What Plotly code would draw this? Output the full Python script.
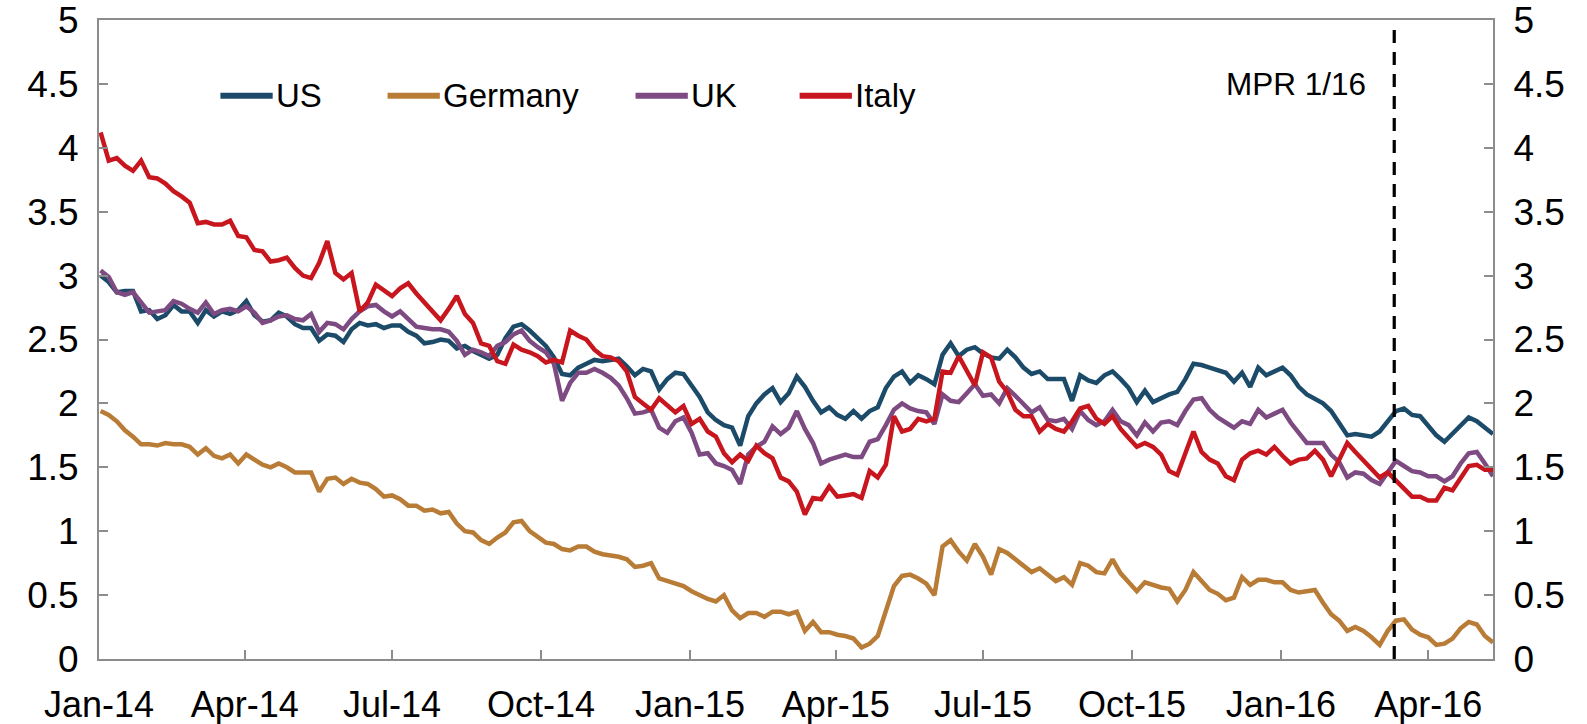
import pandas as pd
import plotly.graph_objects as go

# 10-year government bond yields, read every 5 days from the chart
START = "2014-01-02"
STEP = "5D"

us = [
    3.00, 2.95, 2.87, 2.88, 2.88, 2.72, 2.73, 2.66, 2.69, 2.77,
    2.72, 2.72, 2.63, 2.73, 2.68, 2.72, 2.70, 2.73, 2.80, 2.69,
    2.64, 2.65, 2.71, 2.68, 2.62, 2.59, 2.59, 2.49, 2.54, 2.53,
    2.48, 2.58, 2.63, 2.61, 2.62, 2.59, 2.61, 2.61, 2.56, 2.53,
    2.47, 2.48, 2.50, 2.49, 2.43, 2.45, 2.41, 2.38, 2.35, 2.38,
    2.51, 2.60, 2.62, 2.57, 2.51, 2.45, 2.36, 2.23, 2.22, 2.28,
    2.31, 2.34, 2.33, 2.34, 2.35, 2.29, 2.22, 2.27, 2.25, 2.11,
    2.19, 2.24, 2.23, 2.14, 2.05, 1.93, 1.87, 1.83, 1.81, 1.67,
    1.90, 2.00, 2.07, 2.12, 2.01, 2.08, 2.21, 2.13, 2.02, 1.93,
    1.97, 1.91, 1.88, 1.94, 1.88, 1.94, 1.97, 2.12, 2.21, 2.25,
    2.16, 2.22, 2.19, 2.15, 2.38, 2.47, 2.37, 2.42, 2.44, 2.39,
    2.36, 2.35, 2.42, 2.36, 2.28, 2.23, 2.25, 2.19, 2.19, 2.19,
    2.02, 2.22, 2.18, 2.16, 2.22, 2.25, 2.19, 2.12, 2.01, 2.10,
    2.01, 2.04, 2.07, 2.09, 2.19, 2.31, 2.30, 2.28, 2.26, 2.24,
    2.17, 2.24, 2.13, 2.28, 2.22, 2.25, 2.28, 2.22, 2.13, 2.07,
    2.03, 2.00, 1.94, 1.85, 1.75, 1.76, 1.75, 1.74, 1.78, 1.86,
    1.94, 1.96, 1.91, 1.90, 1.83, 1.75, 1.70, 1.76, 1.82, 1.89,
    1.86, 1.81, 1.76,
]

germany = [
    1.94, 1.91, 1.86, 1.79, 1.74, 1.68, 1.68, 1.67, 1.69, 1.68,
    1.68, 1.66, 1.60, 1.65, 1.59, 1.57, 1.60, 1.53, 1.60, 1.56,
    1.52, 1.50, 1.53, 1.50, 1.46, 1.46, 1.46, 1.31, 1.41, 1.42,
    1.37, 1.41, 1.38, 1.37, 1.33, 1.27, 1.28, 1.25, 1.20, 1.20,
    1.16, 1.17, 1.14, 1.15, 1.06, 1.00, 0.99, 0.93, 0.90, 0.95,
    0.99, 1.07, 1.08, 1.00, 0.96, 0.91, 0.90, 0.86, 0.85, 0.88,
    0.88, 0.84, 0.82, 0.81, 0.80, 0.78, 0.72, 0.73, 0.75, 0.63,
    0.61, 0.59, 0.57, 0.53, 0.50, 0.47, 0.45, 0.50, 0.38, 0.32,
    0.36, 0.36, 0.33, 0.37, 0.37, 0.35, 0.37, 0.22, 0.29, 0.21,
    0.21, 0.19, 0.18, 0.16, 0.09, 0.12, 0.18, 0.38, 0.57, 0.65,
    0.66, 0.63, 0.59, 0.50, 0.88, 0.93, 0.84, 0.77, 0.90, 0.80,
    0.66, 0.86, 0.83, 0.78, 0.73, 0.68, 0.71, 0.66, 0.61, 0.64,
    0.58, 0.75, 0.73, 0.68, 0.67, 0.78, 0.67, 0.60, 0.53, 0.60,
    0.58, 0.56, 0.55, 0.45, 0.54, 0.68, 0.61, 0.54, 0.51, 0.46,
    0.48, 0.64, 0.58, 0.62, 0.62, 0.60, 0.60, 0.54, 0.52, 0.53,
    0.54, 0.44, 0.35, 0.30, 0.22, 0.25, 0.22, 0.17, 0.11, 0.22,
    0.30, 0.31, 0.23, 0.19, 0.17, 0.11, 0.12, 0.16, 0.24, 0.29,
    0.27, 0.18, 0.13,
]

uk = [
    3.04, 2.99, 2.87, 2.85, 2.87, 2.79, 2.71, 2.72, 2.73, 2.80,
    2.78, 2.74, 2.71, 2.79, 2.70, 2.73, 2.74, 2.72, 2.76, 2.71,
    2.63, 2.65, 2.68, 2.69, 2.66, 2.65, 2.70, 2.56, 2.63, 2.62,
    2.58, 2.66, 2.72, 2.76, 2.77, 2.72, 2.68, 2.72, 2.66, 2.60,
    2.59, 2.58, 2.58, 2.56, 2.49, 2.38, 2.42, 2.40, 2.37, 2.45,
    2.48, 2.54, 2.57, 2.49, 2.44, 2.40, 2.31, 2.02, 2.16, 2.24,
    2.24, 2.27, 2.24, 2.20, 2.14, 2.04, 1.92, 1.93, 1.95, 1.81,
    1.77, 1.86, 1.89, 1.77, 1.60, 1.61, 1.53, 1.51, 1.48, 1.37,
    1.60, 1.66, 1.70, 1.82, 1.76, 1.81, 1.94, 1.80, 1.69, 1.53,
    1.56, 1.58, 1.60, 1.58, 1.58, 1.70, 1.72, 1.83, 1.95, 2.00,
    1.96, 1.94, 1.93, 1.84, 2.07, 2.02, 2.01, 2.08, 2.15, 2.06,
    2.07, 2.00, 2.12, 2.06, 1.99, 1.93, 1.97, 1.87, 1.86, 1.88,
    1.80, 1.94, 1.87, 1.83, 1.86, 1.95, 1.86, 1.83, 1.75, 1.85,
    1.78, 1.85, 1.86, 1.83, 1.94, 2.03, 2.04, 1.95, 1.89, 1.85,
    1.81, 1.86, 1.84, 1.95, 1.89, 1.92, 1.95, 1.85, 1.77, 1.69,
    1.69, 1.69, 1.60, 1.54, 1.42, 1.46, 1.45, 1.40, 1.37, 1.46,
    1.55, 1.51, 1.47, 1.46, 1.43, 1.43, 1.39, 1.43, 1.53, 1.61,
    1.62, 1.53, 1.43,
]

italy = [
    4.12, 3.90, 3.92, 3.86, 3.82, 3.90, 3.77, 3.76, 3.72, 3.66,
    3.62, 3.57, 3.41, 3.42, 3.40, 3.40, 3.43, 3.31, 3.30, 3.20,
    3.19, 3.11, 3.12, 3.14, 3.06, 3.00, 2.98, 3.10, 3.27, 3.02,
    2.97, 3.02, 2.72, 2.79, 2.93, 2.89, 2.84, 2.90, 2.94, 2.86,
    2.79, 2.73, 2.65, 2.74, 2.84, 2.70, 2.63, 2.47, 2.45, 2.33,
    2.31, 2.46, 2.42, 2.40, 2.37, 2.32, 2.34, 2.32, 2.57, 2.53,
    2.50, 2.42, 2.37, 2.36, 2.33, 2.25, 2.05, 2.00, 1.95, 2.04,
    1.98, 1.93, 1.98, 1.84, 1.88, 1.78, 1.74, 1.61, 1.54, 1.60,
    1.55, 1.67, 1.61, 1.57, 1.42, 1.39, 1.31, 1.13, 1.26, 1.25,
    1.35, 1.27, 1.28, 1.29, 1.26, 1.47, 1.42, 1.52, 1.90, 1.78,
    1.80, 1.88, 1.86, 1.88, 2.25, 2.24, 2.37, 2.26, 2.14, 2.40,
    2.36, 2.17, 2.09, 1.95, 1.90, 1.90, 1.78, 1.84, 1.80, 1.78,
    1.86, 1.96, 1.98, 1.88, 1.84, 1.90, 1.80, 1.73, 1.66, 1.69,
    1.66, 1.60, 1.47, 1.44, 1.62, 1.78, 1.62, 1.56, 1.53, 1.43,
    1.40, 1.56, 1.61, 1.63, 1.60, 1.66, 1.59, 1.53, 1.56, 1.57,
    1.63, 1.56, 1.43, 1.57, 1.69, 1.62, 1.55, 1.49, 1.42, 1.46,
    1.40, 1.33, 1.27, 1.27, 1.24, 1.24, 1.34, 1.32, 1.42, 1.51,
    1.52, 1.48, 1.48,
]

tick_dates = ["2014-01-01", "2014-04-01", "2014-07-01", "2014-10-01", "2015-01-01",
              "2015-04-01", "2015-07-01", "2015-10-01", "2016-01-01", "2016-04-01"]
tick_text = ["Jan-14", "Apr-14", "Jul-14", "Oct-14", "Jan-15",
             "Apr-15", "Jul-15", "Oct-15", "Jan-16", "Apr-16"]
y_ticks = [0, 0.5, 1, 1.5, 2, 2.5, 3, 3.5, 4, 4.5, 5]

mpr_date = "2016-03-11"
mpr_label = "MPR 1/16"

assert len(us) == len(germany) == len(uk) == len(italy)
dates = pd.date_range(START, periods=len(us), freq=STEP)

FONT = "Liberation Sans, Arial, sans-serif"
AXIS_GREY = "#8c8c8c"

series = [
    ("US", us, "#1c4b69"),
    ("Germany", germany, "#b97c37"),
    ("UK", uk, "#7d4a82"),
    ("Italy", italy, "#c8161e"),
]

fig = go.Figure()
for name, vals, color in series:
    fig.add_trace(go.Scatter(
        x=dates, y=vals, name=name, mode="lines",
        line=dict(color=color, width=4.5),
        yaxis="y2" if name == "Germany" else "y",
        showlegend=False,
    ))

# hand-placed legend, one row inside the plot
legend_x = [0.0871, 0.2070, 0.3849, 0.5026]
for (name, _, color), lx in zip(series, legend_x):
    fig.add_shape(type="line", xref="paper", yref="paper",
                  x0=lx, x1=lx + 0.0375, y0=0.8816, y1=0.8816,
                  line=dict(color=color, width=6))
    fig.add_annotation(x=lx + 0.0385, y=0.8816, xref="paper", yref="paper",
                       text=name, showarrow=False, xanchor="left", yanchor="middle",
                       font=dict(size=33, color="black", family=FONT))

# MPR marker
fig.add_shape(type="line", xref="x", yref="y", x0=mpr_date, x1=mpr_date,
              y0=0, y1=4.95, line=dict(color="black", width=3.2, dash="13px,9px"))
fig.add_annotation(x=0.9105, y=0.9004, xref="paper", yref="paper",
                   text=mpr_label, showarrow=False, xanchor="right", yanchor="middle",
                   font=dict(size=31.5, color="black", family=FONT))

yaxis_common = dict(
    range=[0, 5], tickvals=y_ticks, showgrid=False, zeroline=False,
    showline=True, linecolor=AXIS_GREY, linewidth=2,
    ticks="inside", ticklen=9, tickcolor=AXIS_GREY, tickwidth=1.5,
    tickfont=dict(size=37, color="black", family=FONT),
    ticklabelstandoff=11, automargin=False, ticklabeloverflow="allow",
)

fig.update_layout(
    width=1587, height=724,
    margin=dict(l=99, r=94, t=20, b=65),
    plot_bgcolor="white", paper_bgcolor="white",
    font=dict(family=FONT, color="black"),
    xaxis=dict(
        type="date", range=["2014-01-01", "2016-05-11"],
        tickvals=tick_dates, ticktext=tick_text,
        showgrid=False, zeroline=False,
        showline=True, linecolor=AXIS_GREY, linewidth=2, mirror=True,
        ticks="inside", ticklen=9, tickcolor=AXIS_GREY, tickwidth=1.5,
        tickfont=dict(size=36, color="black", family=FONT),
        ticklabelstandoff=13, automargin=False, ticklabeloverflow="allow",
    ),
    yaxis=dict(side="left", **yaxis_common),
    yaxis2=dict(side="right", overlaying="y", **yaxis_common),
)

# drop the default page margin so the figure fills the window exactly
fig.write_html("out.html", config={"displayModeBar": False},
               post_script="document.body.style.margin = '0';")
